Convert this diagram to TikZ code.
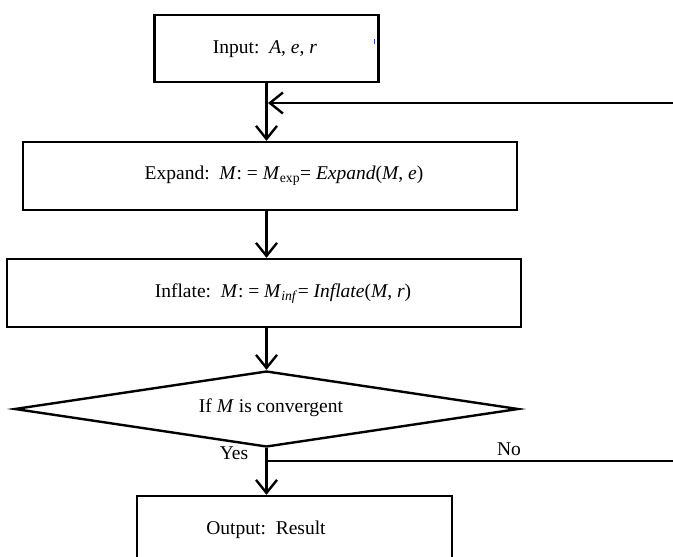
\documentclass[tikz,border=0pt]{standalone}
\usepackage{fontspec}
\setmainfont{Liberation Serif}
\usetikzlibrary{arrows.meta,shapes.geometric}
\tikzset{
  box/.style={draw=black, line width=2.4pt, rectangle, inner sep=0pt},
  dia/.style={draw=black, line width=2.4pt, diamond, inner sep=0pt},
  txt/.style={font=\fontsize{19.5}{22}\selectfont, inner sep=0pt},
  arr/.style={draw=black, line width=2.4pt, -{Straight Barb[length=13pt,width=21pt,line width=2.4pt]}},
  ln/.style={draw=black, line width=2.4pt},
}
\begin{document}
\begin{tikzpicture}[x=1pt,y=-1pt]
\clip (0,0) rectangle (673,557);
\fill[white] (0,0) rectangle (673,557);
% boxes
\node[box, minimum width=224pt, minimum height=67pt] (inp) at (266.5,48.5) {};
\node[txt] (inpt) at (265,49) {Input:\ \ \textit{A}, \textit{e}, \textit{r}};
\fill[blue!70!cyan] (373.5,39) rectangle (375,43.5);
\node[box, minimum width=494pt, minimum height=68pt] (exp) at (270,176) {};
\node[txt] (expt) at (284,176) {Expand:\ \ \textit{M}: = \textit{M}\textsubscript{exp}= \textit{Expand}(\textit{M}, \textit{e})};
\node[box, minimum width=514pt, minimum height=68pt] (inf) at (264,293) {};
\node[txt] (inft) at (283,294) {Inflate:\ \ \textit{M}: = \textit{M}\textsubscript{\textit{inf}}= \textit{Inflate}(\textit{M}, \textit{r})};
\node[dia, minimum width=504pt, minimum height=76pt] (cond) at (266.5,409) {};
\node[txt] (condt) at (271,408) {If \textit{M} is convergent};
\node[box, minimum width=315pt, minimum height=66pt] (out) at (294.5,529) {};
\node[txt] (outt) at (266,530) {Output:\ \ Result};
% labels
\node[txt] (yes) at (234,453) {Yes};
\node[txt] (no) at (509,449) {No};
% connectors
\coordinate (fbR) at (680,103);
\coordinate (fbJ) at (inp.south |- fbR);
\draw[arr] (inp.south) -- (inp.south |- exp.north);
\draw[arr] (fbR) -- ([xshift=1.5pt]fbJ);
\draw[arr] (inp.south |- exp.south) -- (inp.south |- inf.north);
\draw[arr] (inp.south |- inf.south) -- (cond.north);
\coordinate (yn) at (cond.south |- 0,461);
\coordinate (noR) at (680,461);
\draw[arr] (cond.south) -- (cond.south |- out.north);
\draw[ln] (yn) -- (noR);
\end{tikzpicture}
\end{document}
